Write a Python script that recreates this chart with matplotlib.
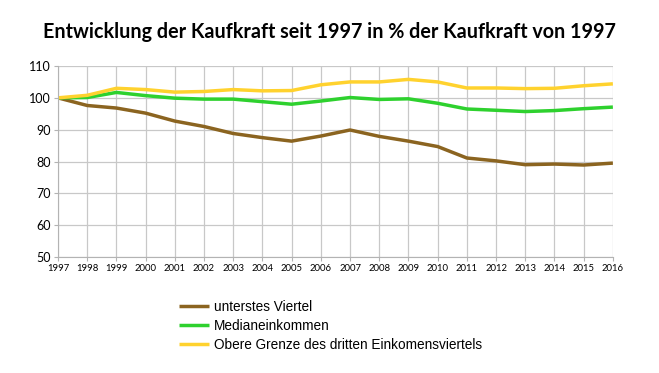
import matplotlib
matplotlib.use("Agg")
import matplotlib.pyplot as plt

years = list(range(1997, 2017))

# Kaufkraft in % von 1997
unterstes_viertel = [100, 97.6, 96.8, 95.2, 92.7, 91.0, 88.8, 87.5, 86.4, 88.0,
                     89.9, 87.9, 86.4, 84.7, 81.1, 80.2, 79.0, 79.2, 78.9, 79.5]
median = [100, 100.1, 101.7, 100.7, 99.9, 99.6, 99.6, 98.8, 98.0, 99.0,
          100.1, 99.5, 99.7, 98.3, 96.5, 96.1, 95.7, 96.0, 96.6, 97.1]
obere_grenze = [100, 100.8, 103.0, 102.6, 101.8, 102.0, 102.6, 102.2, 102.3, 104.1,
                105.0, 105.0, 105.8, 105.0, 103.1, 103.1, 102.9, 103.0, 103.8, 104.4]

labels = ["unterstes Viertel", "Medianeinkommen",
          "Obere Grenze des dritten Einkomensviertels"]
colors = ["#8b6420", "#2ed12e", "#ffd22e"]

fig = plt.figure(figsize=(6.59, 3.73), dpi=100)
ax = fig.add_axes([0.088, 0.311, 0.842, 0.512])

for vals, lab, col in zip([unterstes_viertel, median, obere_grenze], labels, colors):
    ax.plot(years, vals, color=col, linewidth=2.5, label=lab, solid_capstyle="butt")

ax.set_xlim(1997, 2016)
ax.set_ylim(50, 110)
ax.set_xticks(years)
ax.set_yticks(range(50, 111, 10))
ax.grid(True, color="#c8c8c8", linewidth=0.9)
ax.set_axisbelow(True)
for s in ["top", "right"]:
    ax.spines[s].set_visible(False)
for s in ["left", "bottom"]:
    ax.spines[s].set_color("#b3b3b3")
ax.tick_params(axis="both", length=3, color="#b3b3b3", pad=2)
for t in ax.get_xticklabels():
    t.set_fontfamily("Lato")
    t.set_fontsize(6.8)
for t in ax.get_yticklabels():
    t.set_fontfamily("Lato")
    t.set_fontsize(9)

fig.text(0.5, 0.915, "Entwicklung der Kaufkraft seit 1997 in % der Kaufkraft von 1997",
         ha="center", va="center", fontsize=14.2, fontweight="bold", family="Lato")

handles, labs = ax.get_legend_handles_labels()
fig.legend(handles, labs, loc="upper left", bbox_to_anchor=(0.262, 0.214),
           frameon=False, prop={"family": "Liberation Sans", "size": 9.8},
           handlelength=2.2, handletextpad=0.35, labelspacing=0.36, borderpad=0)

fig.savefig("out.png", dpi=100)
